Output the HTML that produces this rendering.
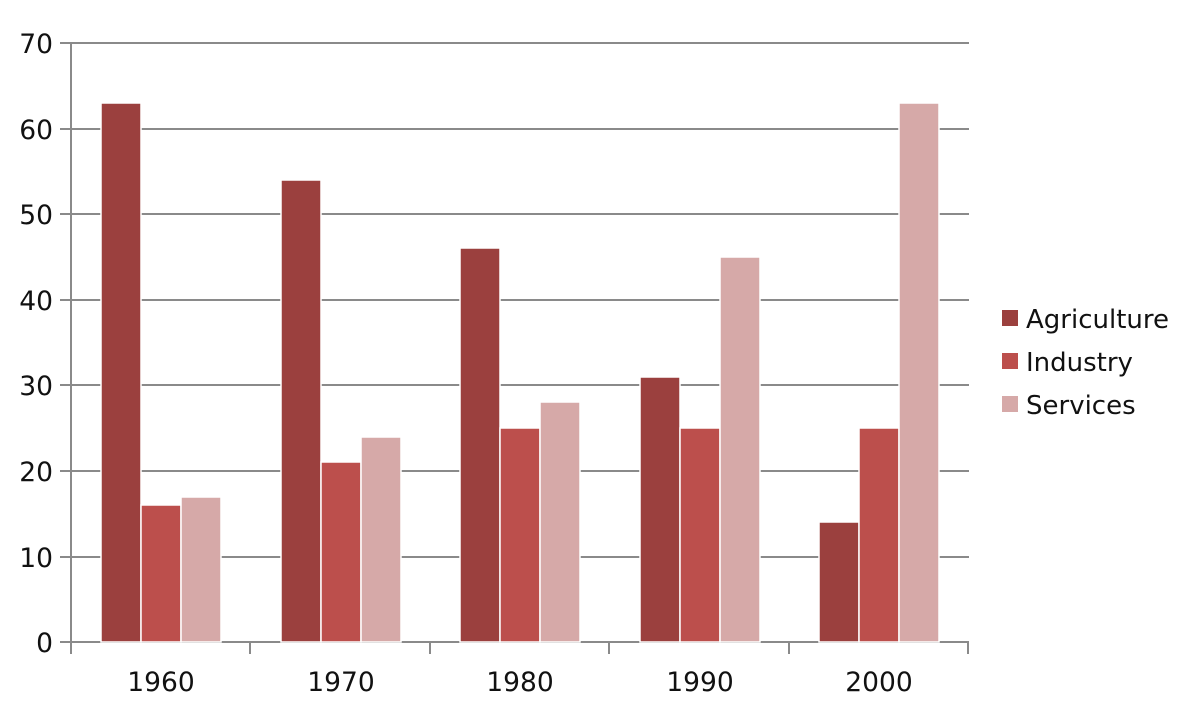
<!DOCTYPE html>
<html><head><meta charset="utf-8"><style>
html,body{margin:0;padding:0;background:#fff;}
svg{display:block;font-family:"DejaVu Sans","Liberation Sans",sans-serif;}
</style></head><body>
<svg width="1180" height="712" viewBox="0 0 1180 712">
<g stroke="#8a8a8a" stroke-width="2">
<line x1="60" y1="43" x2="969" y2="43"/>
<line x1="60" y1="129" x2="969" y2="129"/>
<line x1="60" y1="214" x2="969" y2="214"/>
<line x1="60" y1="300" x2="969" y2="300"/>
<line x1="60" y1="385" x2="969" y2="385"/>
<line x1="60" y1="471" x2="969" y2="471"/>
<line x1="60" y1="557" x2="969" y2="557"/>
<line x1="60" y1="642" x2="969" y2="642"/>
<line x1="71" y1="43" x2="71" y2="654"/>
<line x1="250" y1="642" x2="250" y2="654"/>
<line x1="430" y1="642" x2="430" y2="654"/>
<line x1="609" y1="642" x2="609" y2="654"/>
<line x1="789" y1="642" x2="789" y2="654"/>
<line x1="968" y1="642" x2="968" y2="654"/>
</g>
<g stroke="#fff" stroke-width="1.5">
<rect x="101" y="103" width="40" height="539" fill="#9b403e"/>
<rect x="141" y="505" width="40" height="137" fill="#bc4f4c"/>
<rect x="181" y="497" width="40" height="145" fill="#d6a9a8"/>
<rect x="281" y="180" width="40" height="462" fill="#9b403e"/>
<rect x="321" y="462" width="40" height="180" fill="#bc4f4c"/>
<rect x="361" y="437" width="40" height="205" fill="#d6a9a8"/>
<rect x="460" y="248" width="40" height="394" fill="#9b403e"/>
<rect x="500" y="428" width="40" height="214" fill="#bc4f4c"/>
<rect x="540" y="402" width="40" height="240" fill="#d6a9a8"/>
<rect x="640" y="377" width="40" height="265" fill="#9b403e"/>
<rect x="680" y="428" width="40" height="214" fill="#bc4f4c"/>
<rect x="720" y="257" width="40" height="385" fill="#d6a9a8"/>
<rect x="819" y="522" width="40" height="120" fill="#9b403e"/>
<rect x="859" y="428" width="40" height="214" fill="#bc4f4c"/>
<rect x="899" y="103" width="40" height="539" fill="#d6a9a8"/>
</g>
<g font-size="26.5" fill="#111" text-anchor="end">
<text x="53" y="53">70</text>
<text x="53" y="139">60</text>
<text x="53" y="224">50</text>
<text x="53" y="310">40</text>
<text x="53" y="395">30</text>
<text x="53" y="481">20</text>
<text x="53" y="567">10</text>
<text x="53" y="652">0</text>
</g>
<g font-size="26.5" fill="#111" text-anchor="middle">
<text x="161" y="691">1960</text>
<text x="341" y="691">1970</text>
<text x="520" y="691">1980</text>
<text x="700" y="691">1990</text>
<text x="879" y="691">2000</text>
</g>
<rect x="1002" y="310" width="16" height="16" fill="#9b403e"/>
<rect x="1002" y="353" width="16" height="16" fill="#bc4f4c"/>
<rect x="1002" y="396" width="16" height="16" fill="#d6a9a8"/>
<g font-size="26" fill="#111">
<text x="1026" y="328">Agriculture</text>
<text x="1026" y="371">Industry</text>
<text x="1026" y="414">Services</text>
</g>
</svg>
</body></html>
